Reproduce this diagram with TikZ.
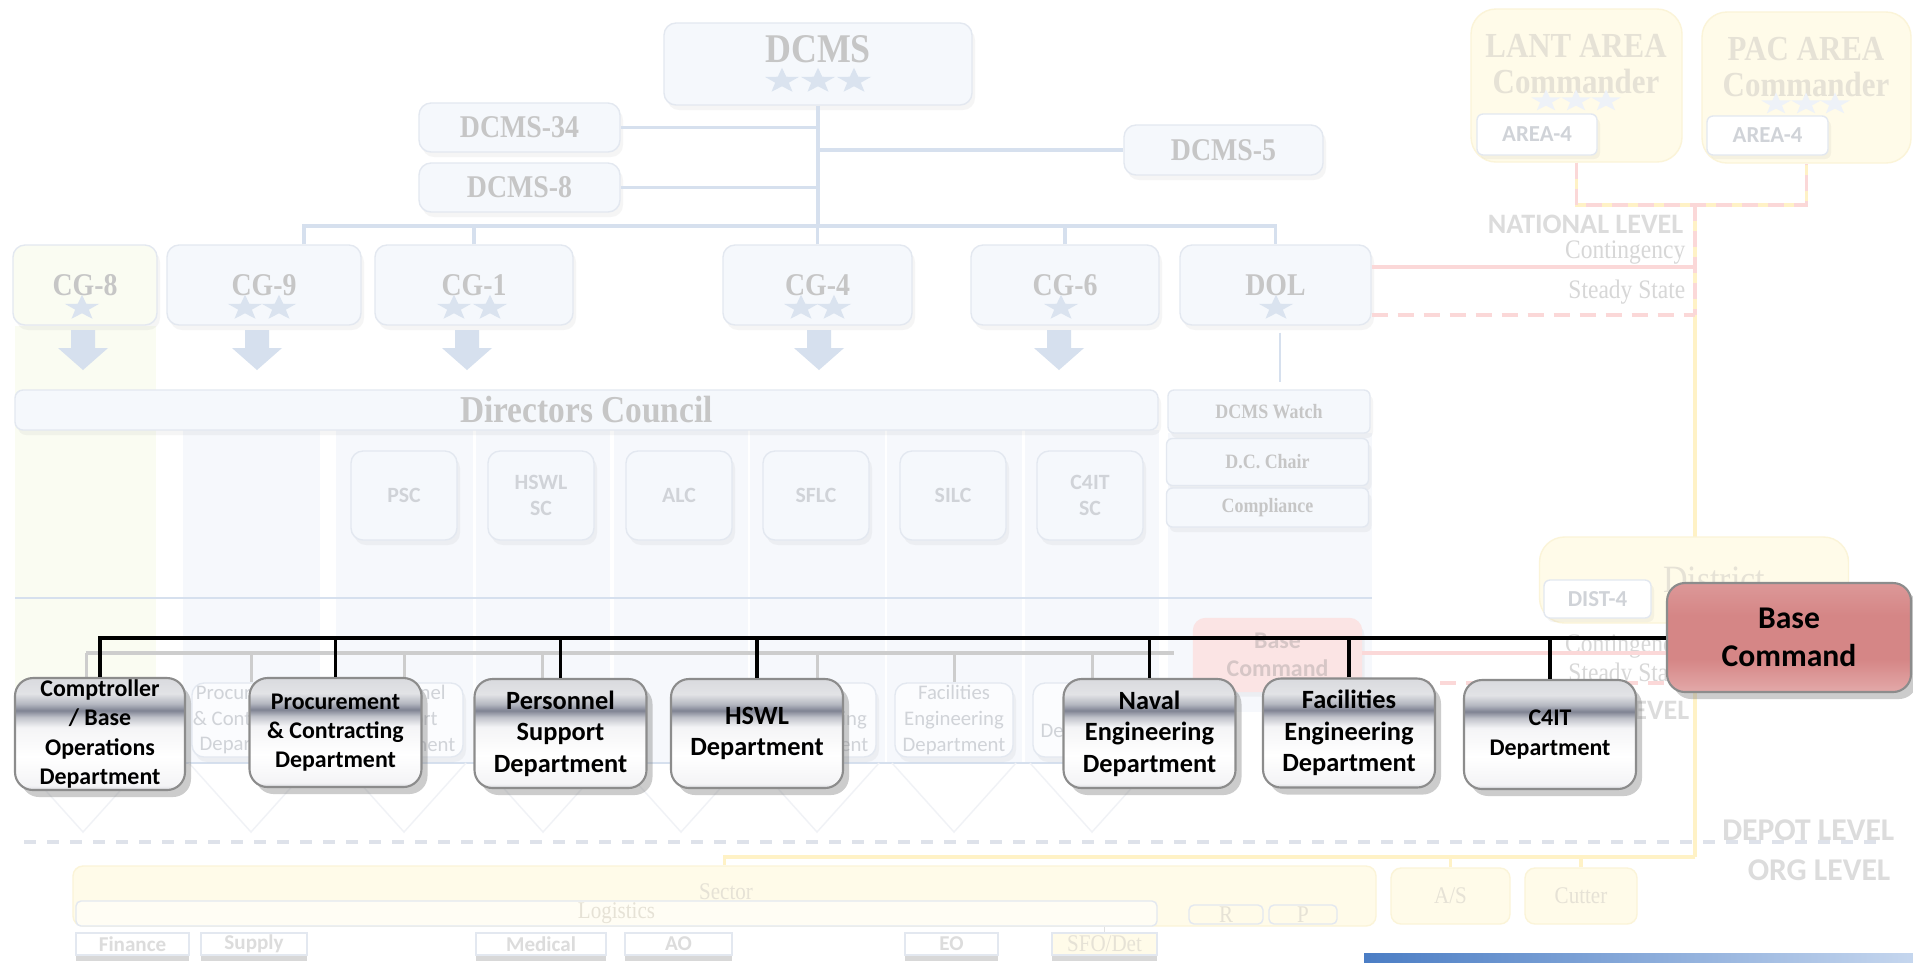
\documentclass[tikz,border=0pt]{standalone}
\usepackage{fontspec}
\setmainfont{Liberation Serif}
\newfontfamily\serifc[FakeStretch=0.88]{Liberation Serif}
\newfontfamily\calib{Carlito}
\usetikzlibrary{shapes.geometric,shadows}

\definecolor{fondo}{HTML}{F5F8FC}
\definecolor{borde}{HTML}{E3E8F0}
\definecolor{tribord}{HTML}{F0F2F6}
\definecolor{gristexto}{HTML}{C6C6C6}
\definecolor{grissans}{HTML}{D0D3D8}
\definecolor{azullinea}{HTML}{D6E0EE}
\definecolor{estrella}{HTML}{DAE3EF}
\definecolor{carril}{HTML}{F6F8FC}
\definecolor{verdoso}{HTML}{FAFCF2}
\definecolor{amarfondo}{HTML}{FFFBE9}
\definecolor{amarborde}{HTML}{FBF4D8}
\definecolor{amarlinea}{HTML}{FFF2C6}
\definecolor{amartexto}{HTML}{E6E2D6}
\definecolor{rojolinea}{HTML}{FBD8D8}
\definecolor{rosafondo}{HTML}{FBE4E4}
\definecolor{grisrosa}{HTML}{D6C6C6}
\definecolor{grisbus}{HTML}{CDCDCD}
\definecolor{depot}{HTML}{DEE2EA}
\definecolor{nivelgris}{HTML}{DCDCDC}
\definecolor{plA}{HTML}{DADBDF}
\definecolor{plB}{HTML}{E2E3E6}
\definecolor{plC}{HTML}{B5B8C1}
\definecolor{plD}{HTML}{7F8393}
\definecolor{plE}{HTML}{C0C2CA}
\definecolor{plF}{HTML}{F4F4F6}
\definecolor{plG}{HTML}{D9DADE}
\definecolor{rsA}{HTML}{DC9898}
\definecolor{rsB}{HTML}{D58686}
\definecolor{rsC}{HTML}{E3A9A9}
\definecolor{azulpie}{HTML}{1E5DB6}
\definecolor{azulpie2}{HTML}{C5D6EE}

\pgfdeclareverticalshading{plata}{100bp}{color(0bp)=(plA); color(25bp)=(plA); color(27bp)=(plF); color(40bp)=(white); color(53bp)=(plF); color(57.5bp)=(plE); color(60.5bp)=(plD); color(63.5bp)=(plC); color(68bp)=(plB); color(75bp)=(plG); color(100bp)=(plG)}
\pgfdeclareverticalshading{rosa}{100bp}{color(0bp)=(rsC); color(25bp)=(rsC); color(40bp)=(rsB); color(60bp)=(rsB); color(75bp)=(rsA); color(100bp)=(rsA)}

\begin{document}
\begin{tikzpicture}[x=0.1mm,y=-0.1mm,
  caja/.style={rounded corners=1.2mm,fill=fondo,draw=borde,line width=0.4pt,inner sep=0pt,
    drop shadow={opacity=0.08,shadow xshift=0.3mm,shadow yshift=-0.5mm}},
  titulo/.style={font=\serifc\bfseries\fontsize{9}{10}\selectfont,text=gristexto,inner sep=0pt},
  estr/.style={star,star points=5,star point ratio=2.5,fill=estrella,inner sep=0pt,minimum size=2.65mm,xscale=1.35},
  conector/.style={draw=azullinea,line width=0.35mm},
  chico/.style={caja,minimum width=10.6mm,minimum height=8.9mm,align=center,text=grissans,
    font=\calib\bfseries\fontsize{6.2}{7.4}\selectfont},
  lateral/.style={caja,rounded corners=0.6mm,minimum width=20.2mm,text=gristexto,
    font=\serifc\bfseries\fontsize{5.8}{7}\selectfont},
  amarcaja/.style={rounded corners=2.5mm,fill=amarfondo,draw=amarborde,line width=0.4pt,inner sep=0pt},
  etiq/.style={fill=white,draw=borde,rounded corners=0.6mm,inner sep=0pt,text=grissans,
    font=\calib\bfseries\fontsize{6.5}{7.5}\selectfont,
    drop shadow={opacity=0.08,shadow xshift=0.3mm,shadow yshift=-0.4mm}},
  nivel/.style={anchor=east,inner sep=0pt,text=nivelgris,font=\calib\bfseries\fontsize{8}{9}\selectfont},
  estado/.style={anchor=east,inner sep=0pt,text=gristexto!70,font=\serifc\fontsize{7.6}{9}\selectfont},
  viejo/.style={caja,fill=white!60!fondo,minimum width=11.8mm,minimum height=7.4mm,align=center,
    text=grissans,font=\calib\fontsize{5.9}{7.3}\selectfont},
  pieza/.style={fill=white,draw=borde,inner sep=0pt,minimum height=2.2mm,text=nivelgris,
    font=\calib\bfseries\fontsize{6}{7}\selectfont,
    drop shadow={opacity=0.3,shadow xshift=0mm,shadow yshift=-0.6mm}},
  rojodash/.style={draw=rojolinea,line width=0.35mm,dash pattern=on 1.6mm off 1mm},
  depto/.style={rounded corners=1.8mm,draw=black!45,line width=0.6pt,shading=plata,
    minimum width=17.2mm,minimum height=10.9mm,align=center,inner sep=0pt,text=black,
    font=\calib\bfseries\fontsize{7.5}{9}\selectfont,
    drop shadow={opacity=0.4,shadow xshift=0.6mm,shadow yshift=-0.7mm}},
  bus/.style={draw=black,line width=0.4mm}]
\useasboundingbox (0,0) rectangle (1913,962);
\fill[white] (0,0) rectangle (1913,962);

% Carriles del consejo
\fill[verdoso] (15,326) rectangle (156,763);
\foreach \a/\b in {183/320,336/473,476/610,614/748,750/885,887/1022,1025/1159}
  \fill[carril] (\a,430) rectangle (\b,763);
\fill[carril] (1168,433) rectangle (1372,712);
\draw[azullinea,line width=0.15mm] (15,598) -- (1372,598);
\draw[azullinea,line width=0.15mm] (184,763) -- (1160,763);
\foreach \c in {83,251,404,543,681,817,954,1092}
  \draw[tribord,line width=0.4pt] (\c-62,763) -- (\c,832) -- (\c+62,763);

% Linea vertical de niveles
\coordinate (nudo) at (1695,205);
\coordinate (org) at (1695,857);
\draw[amarlinea,line width=0.35mm] (nudo) -- (org);

% DCMS y asesores
\node[caja,minimum width=30.8mm,minimum height=8.2mm] (dcms) at (818,64) {};
\node[titulo,font=\serifc\bfseries\fontsize{11.6}{13}\selectfont] (dcmstx) at (818,49) {DCMS};
\node[estr] (sd1) at (782,81) {};
\node[estr] (sd2) at (818,81) {};
\node[estr] (sd3) at (854,81) {};
\node[caja,titulo,minimum width=20.1mm,minimum height=4.9mm] (d34) at (519.5,127.5) {DCMS-34};
\node[caja,titulo,minimum width=20.1mm,minimum height=4.9mm] (d8) at (519.5,187.5) {DCMS-8};
\node[caja,titulo,minimum width=19.9mm,minimum height=5mm] (d5) at (1223.5,150) {DCMS-5};

% Conectores superiores
\coordinate (barra) at (304,226);
\draw[conector] (dcms.south) -- (dcms.south |- barra);
\draw[conector] (d34.east) -- (d34.east -| dcms.south);
\draw[conector] (d8.east) -- (d8.east -| dcms.south);
\draw[conector] (d5.west) -- (d5.west -| dcms.south);

% Jefaturas CG
\node[caja,titulo,fill=verdoso,minimum width=14.4mm,minimum height=8mm] (cg8) at (85,285) {CG-8};
\node[caja,titulo,minimum width=19.4mm,minimum height=8mm] (cg9) at (264,285) {CG-9};
\node[caja,titulo,minimum width=19.8mm,minimum height=8mm] (cg1) at (474,285) {CG-1};
\node[caja,titulo,minimum width=18.9mm,minimum height=8mm] (cg4) at (817.5,285) {CG-4};
\node[caja,titulo,minimum width=18.8mm,minimum height=8mm] (cg6) at (1065,285) {CG-6};
\node[caja,titulo,minimum width=19.1mm,minimum height=8mm] (dol) at (1275.5,285) {DOL};
\node[estr] (s8) at (82,308) {};
\node[estr] (s9a) at (245,308) {};
\node[estr] (s9b) at (279,308) {};
\node[estr] (s1a) at (454,308) {};
\node[estr] (s1b) at (490,308) {};
\node[estr] (s4a) at (801,308) {};
\node[estr] (s4b) at (834,308) {};
\node[estr] (s6) at (1061,308) {};
\node[estr] (sdol) at (1276,308) {};

\draw[conector] (barra |- cg9.north) -- (barra) -- (barra -| dol.north) -- (dol.north);
\draw[conector] (cg1.north) -- (cg1.north |- barra);
\draw[conector] (cg4.north) -- (cg4.north |- barra);
\draw[conector] (cg6.north) -- (cg6.north |- barra);

% Flechas hacia el consejo
\foreach \c in {83,257,467,819,1059}
  \fill[azullinea] (\c-12,330) -- (\c+12,330) -- (\c+12,348) -- (\c+25,348) -- (\c,370)
    -- (\c-25,348) -- (\c-12,348) -- cycle;
\coordinate (dolfin) at (1280,382);
\draw[azullinea,line width=0.15mm] (dolfin |- dol.south) ++(0,7) -- (dolfin);

% Consejo de directores
\node[caja,titulo,rounded corners=0.8mm,minimum width=114.3mm,minimum height=4mm,
  font=\serifc\bfseries\fontsize{10.8}{12}\selectfont] (dc) at (586.5,410) {Directors Council};
\node[lateral,minimum height=4.3mm] (watch) at (1269,411.5) {DCMS Watch};
\node[lateral,minimum height=4.7mm] (chair) at (1267.5,462) {D.C. Chair};
\node[lateral,minimum height=3.9mm] (cumpl) at (1267.5,507.5) {Compliance};

% Centros de servicio
\node[chico] (psc) at (404,495.5) {PSC};
\node[chico] (hsc) at (541,495.5) {HSWL\\SC};
\node[chico] (alc) at (679,495.5) {ALC};
\node[chico] (sflc) at (816,495.5) {SFLC};
\node[chico] (silc) at (953,495.5) {SILC};
\node[chico] (csc) at (1090,495.5) {C4IT\\SC};

% Estructura anterior (difuminada)
\node[caja,fill=rosafondo,draw=rosafondo,minimum width=16.8mm,minimum height=7.3mm,align=center,
  text=grisrosa,font=\calib\bfseries\fontsize{6.8}{8}\selectfont] (fbase) at (1277.5,655) {Base\\Command};
\node[viejo] (fd1) at (251,720) {Procurement\\\& Contracting\\Department};
\node[viejo] (fd2) at (404,720) {Personnel\\Support\\Department};
\node[viejo] (fd3) at (817,720) {Naval\\Engineering\\Department};
\node[viejo] (fd4) at (954,720) {Facilities\\Engineering\\Department};
\node[viejo] (fd5) at (1092,720) {C4IT\\Department};
\coordinate (gc) at (86,653);
\coordinate (gb) at (1174,653);
\coordinate (gc2) at (86,683);
\coordinate (gh) at (542,683);
\draw[grisbus,line width=0.4mm] (gc) -- (gb);
\draw[grisbus,line width=0.3mm] (gc) -- (gc2);
\draw[grisbus,line width=0.3mm] (gh |- gb) -- (gh);
\foreach \n in {fd1,fd2,fd3,fd4,fd5}
  \draw[grisbus,line width=0.3mm] (\n.north |- gb) -- (\n.north);

% Areas
\node[amarcaja,minimum width=21.1mm,minimum height=15.3mm] (lant) at (1576.5,85.5) {};
\node[align=center,inner sep=0pt,text=amartexto,font=\serifc\bfseries\fontsize{10}{10.2}\selectfont] (lanttx) at (1576,64) {LANT AREA\\Commander};
\node[amarcaja,minimum width=20.9mm,minimum height=15.1mm] (pac) at (1806.5,87.5) {};
\node[align=center,inner sep=0pt,text=amartexto,font=\serifc\bfseries\fontsize{10}{10.2}\selectfont] (pactx) at (1806,67) {PAC AREA\\Commander};
\node[estr,fill=estrella!45,minimum size=2.3mm] (sl1) at (1546,101) {};
\node[estr,fill=estrella!45,minimum size=2.3mm] (sl2) at (1576,101) {};
\node[estr,fill=estrella!45,minimum size=2.3mm] (sl3) at (1606,101) {};
\node[estr,fill=estrella!45,minimum size=2.3mm] (sp1) at (1776,104) {};
\node[estr,fill=estrella!45,minimum size=2.3mm] (sp2) at (1806,104) {};
\node[estr,fill=estrella!45,minimum size=2.3mm] (sp3) at (1835,104) {};
\node[etiq,minimum width=12mm,minimum height=4.1mm] (a4l) at (1537,134.5) {AREA-4};
\node[etiq,minimum width=12.1mm,minimum height=3.9mm] (a4p) at (1767.5,135.5) {AREA-4};
\coordinate (est) at (1695,315);
\coordinate (cont) at (1695,267);
\draw[amarlinea,line width=0.35mm] (lant.south) |- (nudo) -| (pac.south);
\draw[rojodash] (lant.south) |- (nudo) -| (pac.south);
\draw[rojodash] (nudo) -- (est);
\draw[rojolinea,line width=0.35mm] (dol.east |- cont) -- (cont);
\draw[rojodash] (dol.east |- est) -- (est);
\node[nivel] (nac) at (1684,224) {NATIONAL LEVEL};
\node[estado] (cont1) at (1686,253) {Contingency};
\node[estado] (est1) at (1686,292) {Steady State};

% Distrito
\node[amarcaja,minimum width=30.9mm,minimum height=8.6mm] (dist) at (1694,580) {};
\node[inner sep=0pt,text=amartexto,font=\serifc\fontsize{11}{13}\selectfont] (disttx) at (1714,580) {District};
\node[etiq,minimum width=10.7mm,minimum height=3.8mm] (d4) at (1597.5,599) {DIST-4};
\node[estado] (cont2) at (1686,647) {Contingency};
\node[estado] (est2) at (1686,675) {Steady State};
\node[nivel] (distniv) at (1690,710) {DISTRICT LEVEL};
\coordinate (cont3) at (1667,653);
\coordinate (est3) at (1667,683);
\draw[rojolinea,line width=0.35mm] (fbase.east |- cont3) -- (cont3);
\draw[rojodash] (fbase.east |- est3) -- (est3);

% Nivel deposito y nivel org
\coordinate (dep1) at (24,842);
\coordinate (dep2) at (1878,842);
\draw[depot,line width=0.4mm,dash pattern=on 1.2mm off 1.1mm] (dep1) -- (dep2);
\node[nivel,font=\calib\bfseries\fontsize{9}{10}\selectfont] (depniv) at (1895,830) {DEPOT LEVEL};
\node[nivel,font=\calib\bfseries\fontsize{9}{10}\selectfont] (orgniv) at (1891,870) {ORG LEVEL};

% Sector
\node[amarcaja,rounded corners=1mm,minimum width=130.3mm,minimum height=6mm] (sector) at (724.5,896) {};
\node[inner sep=0pt,text=amartexto,font=\serifc\fontsize{6.8}{8}\selectfont] (sectx) at (726,892) {Sector};
\node[amarcaja,rounded corners=0.5mm,fill=amarfondo!50,draw=borde,minimum width=108.1mm,minimum height=2.5mm,
  text=amartexto,font=\serifc\fontsize{6.8}{8}\selectfont] (logis) at (616.5,913.5) {Logistics};
\node[amarcaja,rounded corners=0.5mm,draw=borde,minimum width=7.4mm,minimum height=1.9mm,
  text=amartexto,font=\serifc\fontsize{6.8}{8}\selectfont] (rr) at (1226,914.5) {R};
\node[amarcaja,rounded corners=0.5mm,draw=borde,minimum width=6.8mm,minimum height=1.9mm,
  text=amartexto,font=\serifc\fontsize{6.8}{8}\selectfont] (pp) at (1303,914.5) {P};
\node[amarcaja,rounded corners=1mm,minimum width=11.9mm,minimum height=5.6mm,
  text=amartexto,font=\serifc\fontsize{6.8}{8}\selectfont] (as) at (1450.5,896) {A/S};
\node[amarcaja,rounded corners=1mm,minimum width=11.2mm,minimum height=5.6mm,
  text=amartexto,font=\serifc\fontsize{6.8}{8}\selectfont] (cut) at (1581,896) {Cutter};
\draw[amarlinea,line width=0.35mm] (org) -| (sector.north);
\draw[amarlinea,line width=0.35mm] (as.north |- org) -- (as.north);
\draw[amarlinea,line width=0.35mm] (cut.north |- org) -- (cut.north);
\node[pieza,minimum width=11.3mm] (fin) at (132.5,944) {Finance};
\node[pieza,minimum width=10.6mm] (sup) at (254,944) {Supply};
\node[pieza,minimum width=13mm] (med) at (541,944) {Medical};
\node[pieza,minimum width=10.7mm] (ao) at (678.5,944) {AO};
\node[pieza,minimum width=9.3mm] (eo) at (951.5,944) {EO};
\node[pieza,minimum width=10.5mm,fill=amarfondo,text=amartexto,font=\serifc\fontsize{6.8}{8}\selectfont] (sfo) at (1104.5,944) {SFO/Det};
\draw[grisbus!60,line width=0.15mm] (sfo.north |- logis.south) -- (sfo.north);

% Pie azul
\shade[left color=azulpie!80,middle color=azulpie,right color=azulpie2] (1364,953) rectangle (1913,962);

% Departamentos de la base
\node[depto,font=\calib\bfseries\fontsize{6.8}{8.3}\selectfont,minimum width=17mm,minimum height=11.2mm] (comp) at (100,734) {Comptroller\\/ Base\\Operations\\Department};
\node[depto,font=\calib\bfseries\fontsize{6.8}{8.3}\selectfont] (proc) at (335.5,732.5) {Procurement\\\& Contracting\\Department};
\node[depto] (pers) at (560.5,733.5) {Personnel\\Support\\Department};
\node[depto] (hswl) at (757,733.5) {HSWL\\Department};
\node[depto] (naval) at (1149.5,733.5) {Naval\\Engineering\\Department};
\node[depto] (faci) at (1349,733) {Facilities\\Engineering\\Department};
\node[depto,font=\calib\bfseries\fontsize{6.8}{8.3}\selectfont] (c4it) at (1550,734.5) {C4IT\\Department};
\node[depto,shading=rosa,minimum width=24.4mm,minimum height=10.9mm,
  font=\calib\bfseries\fontsize{9}{11}\selectfont] (base) at (1789,637.5) {Base\\Command};

% Barra de mando
\draw[bus] (base.west) -- (comp.north |- base.west) -- (comp.north);
\foreach \n in {proc,pers,hswl,naval,faci,c4it}
  \draw[bus,line width=0.35mm] (\n.north) -- (\n.north |- base.west);

\end{tikzpicture}
\end{document}
